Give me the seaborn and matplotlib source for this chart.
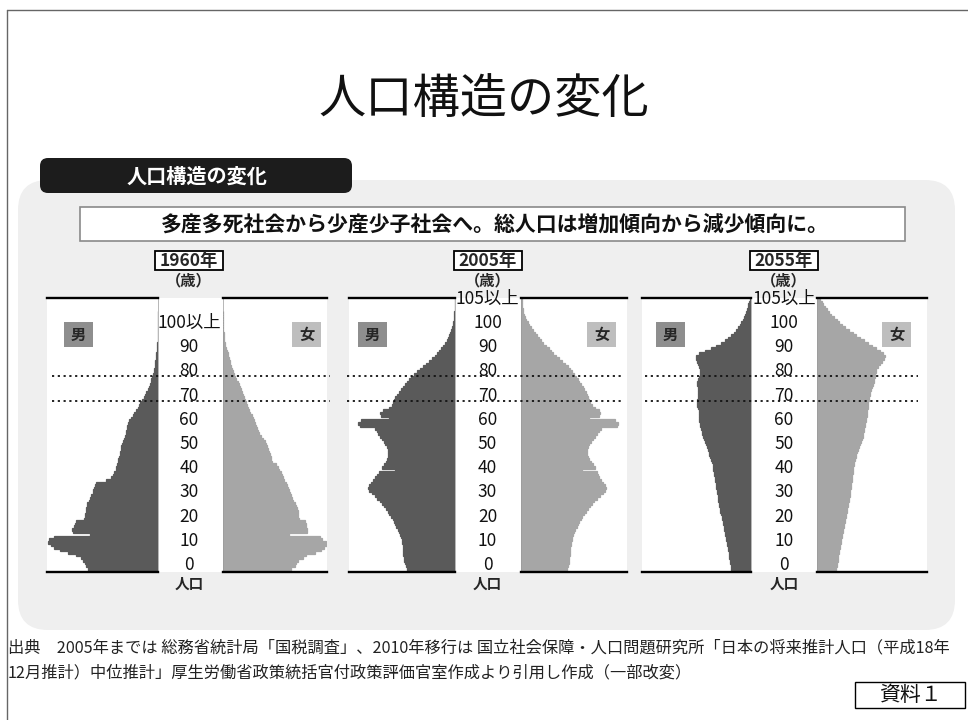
import numpy as np
import pandas as pd
import matplotlib
matplotlib.use("Agg")
import matplotlib.pyplot as plt
from matplotlib.patches import FancyBboxPatch, Rectangle
import seaborn as sns

# Population by single year of age (thousands); the last entry is the open top group.
male_1960 = [840, 840, 865, 875, 900, 925, 985, 1080, 1175, 1250,
             1285, 1320, 1310, 1250, 815, 1020, 1030, 1010, 995, 985,
             890, 875, 875, 865, 865, 850, 850, 830, 815, 805,
             780, 780, 770, 755, 745, 625, 565, 540, 530, 505,
             505, 490, 480, 480, 470, 455, 455, 445, 445, 430,
             420, 410, 395, 385, 385, 370, 370, 360, 350, 325,
             300, 290, 265, 240, 230, 215, 190, 170, 155, 145,
             120, 110, 100, 90, 85, 72, 60, 54, 48, 42,
             36, 32, 28, 24, 19, 16, 12, 10, 7, 6,
             5, 4, 3, 2, 1.5, 1, 0.6, 0.4, 0.3, 0.2,
             0.2]
female_1960 = [815, 815, 865, 875, 900, 960, 995, 1105, 1175, 1210,
               1250, 1235, 1190, 1165, 790, 1010, 1010, 995, 995, 985,
               910, 900, 900, 900, 890, 875, 865, 840, 830, 815,
               805, 790, 780, 770, 755, 730, 720, 710, 695, 670,
               660, 635, 590, 575, 575, 565, 550, 540, 530, 515,
               505, 480, 455, 430, 420, 410, 395, 385, 370, 360,
               350, 325, 310, 300, 290, 275, 265, 250, 240, 230,
               215, 205, 190, 180, 155, 145, 130, 120, 110, 95,
               85, 78, 72, 60, 54, 42, 36, 26, 20, 16,
               12, 8, 6, 5, 4, 2.5, 1.8, 1.2, 0.8, 0.6,
               0.6]
male_2005 = [575, 575, 590, 600, 610, 610, 625, 625, 625, 625,
             625, 635, 635, 650, 660, 670, 685, 710, 720, 730,
             745, 770, 790, 805, 830, 850, 875, 900, 935, 960,
             995, 1030, 1045, 1030, 1010, 985, 960, 935, 910, 720,
             875, 850, 830, 815, 805, 805, 805, 805, 815, 840,
             850, 875, 900, 925, 935, 960, 1140, 1165, 1130, 790,
             890, 900, 865, 790, 755, 745, 730, 720, 695, 670,
             650, 625, 600, 575, 550, 530, 490, 455, 420, 385,
             350, 310, 275, 240, 215, 190, 170, 145, 120, 100,
             85, 72, 60, 48, 38, 30, 24, 18, 13, 10,
             7, 5, 4, 2.5, 2, 2.5]
female_2005 = [550, 550, 565, 575, 575, 575, 590, 590, 590, 590,
               600, 600, 610, 610, 625, 635, 650, 670, 685, 695,
               720, 730, 755, 780, 805, 830, 850, 875, 910, 950,
               985, 1010, 1020, 1010, 985, 960, 935, 925, 910, 730,
               890, 865, 840, 815, 805, 790, 790, 790, 805, 815,
               840, 865, 890, 910, 935, 960, 1150, 1165, 1130, 815,
               935, 950, 935, 890, 850, 830, 815, 805, 790, 780,
               755, 745, 720, 695, 685, 660, 635, 610, 590, 565,
               530, 490, 455, 420, 385, 360, 335, 300, 265, 240,
               215, 190, 170, 145, 120, 95, 78, 60, 48, 36,
               26, 19, 13, 10, 6, 7]
male_2055 = [240, 240, 240, 250, 250, 265, 265, 265, 275, 275,
             290, 290, 300, 300, 310, 310, 325, 325, 335, 335,
             350, 350, 360, 370, 370, 385, 385, 395, 395, 395,
             410, 410, 420, 420, 420, 430, 430, 445, 445, 455,
             455, 455, 470, 480, 490, 505, 505, 515, 530, 540,
             550, 565, 575, 590, 590, 600, 610, 610, 625, 625,
             625, 625, 625, 635, 650, 650, 650, 635, 635, 635,
             635, 635, 650, 650, 635, 625, 610, 610, 610, 625,
             635, 650, 660, 660, 625, 550, 480, 420, 360, 310,
             275, 240, 205, 180, 155, 130, 115, 95, 85, 72,
             60, 52, 42, 34, 24, 18]
female_2055 = [230, 230, 240, 240, 250, 250, 250, 265, 265, 275,
               275, 290, 290, 300, 300, 310, 310, 325, 325, 335,
               335, 350, 350, 360, 360, 370, 370, 385, 385, 395,
               395, 395, 410, 410, 410, 420, 420, 420, 430, 430,
               430, 445, 445, 455, 470, 470, 480, 490, 505, 515,
               530, 540, 550, 550, 565, 565, 575, 575, 590, 590,
               600, 600, 600, 610, 610, 610, 625, 625, 635, 635,
               650, 660, 670, 685, 685, 695, 695, 710, 710, 730,
               755, 780, 805, 815, 790, 755, 710, 660, 610, 565,
               515, 470, 430, 385, 335, 300, 265, 240, 205, 170,
               145, 120, 95, 72, 54, 36]

years = ["1960年", "2005年", "2055年"]
age_ticks = ["0", "10", "20", "30", "40", "50", "60", "70", "80", "90", "100"]
top_group = ["100以上", "105以上", "105以上"]
guide_ages = [65, 75]

title = "人口構造の変化"
header = "人口構造の変化"
subtitle = "多産多死社会から少産少子社会へ。総人口は増加傾向から減少傾向に。"
source_1 = ("出典　2005年までは 総務省統計局「国税調査」、2010年移行は 国立社会保障・"
            "人口問題研究所「日本の将来推計人口（平成18年")
source_2 = "12月推計）中位推計」厚生労働省政策統括官付政策評価官室作成より引用し作成（一部改変）"
doc_tag = "資料１"

sns.set_theme(style="white")
plt.rcParams["font.family"] = ["Noto Sans CJK JP", "DejaVu Sans"]

W, H = 968, 720
MALE_C, FEMALE_C = "#5a5a5a", "#a6a6a6"
PX_PER_K = 1 / 12.0          # horizontal pixels per thousand people
AGE_TOP = 106                # age axis runs 0 .. 106
Y_TOP, Y_BOT = 298, 572      # pixel rows of the pyramid frame

fig = plt.figure(figsize=(W / 100, H / 100), dpi=100)
fig.patch.set_facecolor("white")


def pixel_axes(zorder):
    ax = fig.add_axes([0, 0, 1, 1])
    ax.set_xlim(0, W)
    ax.set_ylim(H, 0)
    ax.axis("off")
    ax.set_zorder(zorder)
    ax.patch.set_alpha(0)
    return ax


bg = pixel_axes(0)
fg = pixel_axes(5)

# slide frame
bg.plot([7, W], [10, 10], color="#666666", lw=1)
bg.plot([7, 7], [10, H], color="#666666", lw=1)

bg.text(484, 100, title, ha="center", va="center", fontsize=34, color="#111111")

bg.add_patch(FancyBboxPatch((18, 180), 937, 450, boxstyle="round,pad=0,rounding_size=30",
                            fc="#efefef", ec="none"))
bg.add_patch(FancyBboxPatch((40, 158), 312, 35, boxstyle="round,pad=0,rounding_size=8",
                            fc="#1c1c1c", ec="none"))
bg.text(197, 176, header, ha="center", va="center", fontsize=14.5, color="white",
        fontweight="bold")
bg.add_patch(Rectangle((80, 207), 825, 34, fc="white", ec="#8a8a8a", lw=1.2))
bg.text(495, 224, subtitle, ha="center", va="center", fontsize=15, fontweight="bold",
        color="#111111")

layouts = [
    dict(male=(47, 158), female=(223, 327), center=189, dots=(52, 330), mbox=64, fbox=292),
    dict(male=(349, 455), female=(521, 627), center=487.5, dots=(347, 622), mbox=358, fbox=587),
    dict(male=(642, 751), female=(817, 927), center=784, dots=(645, 918), mbox=656, fbox=882),
]
series = [(male_1960, female_1960), (male_2005, female_2005), (male_2055, female_2055)]


def draw_half(x0, x1, values, color, mirrored):
    ax = fig.add_axes([x0 / W, 1 - Y_BOT / H, (x1 - x0) / W, (Y_BOT - Y_TOP) / H])
    ax.set_zorder(2)
    ax.patch.set_alpha(0)
    df = pd.DataFrame({"age": np.arange(len(values)) + 0.5, "pop": values})
    sns.barplot(data=df, x="pop", y="age", orient="h", native_scale=True, width=1.0,
                color=color, saturation=1, errorbar=None, edgecolor=color,
                linewidth=0.9, ax=ax)
    span = (x1 - x0) / PX_PER_K
    ax.set_xlim((span, 0) if mirrored else (0, span))
    ax.set_ylim(0, AGE_TOP)
    ax.set_xticks([])
    ax.set_yticks([])
    ax.set_xlabel("")
    ax.set_ylabel("")
    for side in ("top", "bottom"):
        ax.spines[side].set_visible(True)
        ax.spines[side].set_color("black")
        ax.spines[side].set_linewidth(1.7)
    inner, outer = ("right", "left") if mirrored else ("left", "right")
    ax.spines[outer].set_visible(False)
    ax.spines[inner].set_visible(True)
    ax.spines[inner].set_color("#9a9a9a")
    ax.spines[inner].set_linewidth(0.5)
    return ax


def age_to_px(age):
    return Y_BOT - age * (Y_BOT - Y_TOP) / AGE_TOP


for i, (lay, (m_vals, f_vals)) in enumerate(zip(layouts, series)):
    mx0, mx1 = lay["male"]
    fx0, fx1 = lay["female"]
    c = lay["center"]

    bg.add_patch(Rectangle((mx0, Y_TOP), fx1 - mx0, Y_BOT - Y_TOP, fc="white", ec="none"))

    draw_half(mx0, mx1, m_vals, MALE_C, True)
    draw_half(fx0, fx1, f_vals, FEMALE_C, False)

    # year box and unit
    bg.add_patch(Rectangle((c - 34, 251), 68, 19, fc="white", ec="black", lw=1.3))
    bg.text(c, 260.5, years[i], ha="center", va="center", fontsize=12.5, fontweight="bold")
    bg.text(c, 280, "（歳）", ha="center", va="center", fontsize=11, fontweight="bold")

    # sex markers
    fg.add_patch(Rectangle((lay["mbox"], 322), 29, 25, fc="#8e8e8e", ec="none"))
    fg.text(lay["mbox"] + 14.5, 334.5, "男", ha="center", va="center", fontsize=11,
            fontweight="bold")
    fg.add_patch(Rectangle((lay["fbox"], 322), 29, 25, fc="#bebebe", ec="none"))
    fg.text(lay["fbox"] + 14.5, 334.5, "女", ha="center", va="center", fontsize=11,
            fontweight="bold")

    # age labels down the centre column
    labels = list(age_ticks)
    if i == 0:
        labels[-1] = top_group[0]
    for k, lab in enumerate(labels):
        fg.text(c, 565 - 24.2 * k, lab, ha="center", va="center", fontsize=12.5,
                color="#111111")
    if i > 0:
        fg.text(c, Y_TOP + 1, top_group[i], ha="center", va="center", fontsize=12.5,
                color="#111111")
    fg.text(c, 584, "人口", ha="center", va="center", fontsize=10.5, fontweight="bold")

    # dotted guides at the upper edge of the 65 and 75 age bars
    d0, d1 = lay["dots"]
    for g in guide_ages:
        y = age_to_px(g + 1)
        fg.plot([d0, d1], [y, y], color="#111111", lw=1.3, ls=(0, (1.2, 2.0)))

# source note and tag
bg.text(8, 648, source_1, ha="left", va="center", fontsize=11.7, color="#222222")
bg.text(8, 673, source_2, ha="left", va="center", fontsize=11.7, color="#222222")
bg.add_patch(Rectangle((855, 682), 110, 26, fc="white", ec="black", lw=1))
bg.text(910, 695, doc_tag, ha="center", va="center", fontsize=15, color="#111111")

fig.savefig("out.png", dpi=100)
